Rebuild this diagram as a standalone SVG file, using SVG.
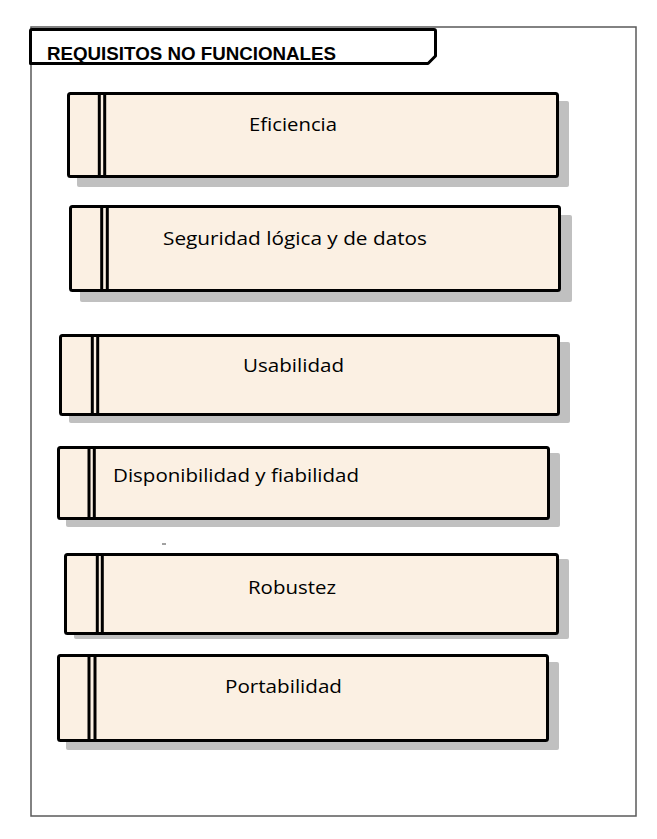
<svg xmlns="http://www.w3.org/2000/svg" width="657" height="839" viewBox="0 0 657 839">
<style>
.frame{fill:#fff;stroke:#5a5a5a;stroke-width:1.5}
.tab{fill:#fff;stroke:#000;stroke-width:3;stroke-linejoin:round}
.title{font-family:"Liberation Sans",Arial,sans-serif;font-weight:bold;font-size:19px;fill:#000}
.shadow{fill:#c0c0c0}
.box{fill:#fbf0e3;stroke:#000;stroke-width:3}
.bar{stroke:#000;stroke-width:3}
.lbl{font-family:"Open Sans","Noto Sans",sans-serif;font-size:19px;fill:#000}
</style>
<rect class="frame" x="31" y="27" width="605" height="789"/>
<g id="title">
<path class="tab" d="M30.5,31 Q30.5,29.5 32,29.5 H434 Q435.5,29.5 435.5,31 V56 L428,63.5 H30.5 Z"/>
<text class="title" x="47" y="60" textLength="289" lengthAdjust="spacingAndGlyphs">REQUISITOS NO FUNCIONALES</text>
</g>
<g id="n1">
<rect class="shadow" x="77" y="101" width="492" height="86" rx="2"/>
<rect class="box" x="68.5" y="93.5" width="489" height="83" rx="2"/>
<line class="bar" x1="99.3" y1="93.5" x2="99.3" y2="176.5"/><line class="bar" x1="104.7" y1="93.5" x2="104.7" y2="176.5"/>
<text class="lbl" x="249" y="131" textLength="88" lengthAdjust="spacingAndGlyphs">Eficiencia</text>
</g>
<g id="n2">
<rect class="shadow" x="80" y="215" width="492" height="87" rx="2"/>
<rect class="box" x="70.5" y="206.5" width="489" height="84" rx="2"/>
<line class="bar" x1="101.7" y1="206.5" x2="101.7" y2="290.5"/><line class="bar" x1="107.3" y1="206.5" x2="107.3" y2="290.5"/>
<text class="lbl" x="163" y="245" textLength="264" lengthAdjust="spacingAndGlyphs">Seguridad lógica y de datos</text>
</g>
<g id="n3">
<rect class="shadow" x="69" y="342" width="501" height="81" rx="2"/>
<rect class="box" x="60.5" y="335.5" width="498" height="79" rx="2"/>
<line class="bar" x1="92.3" y1="335.5" x2="92.3" y2="414.5"/><line class="bar" x1="97.7" y1="335.5" x2="97.7" y2="414.5"/>
<text class="lbl" x="243" y="372" textLength="101" lengthAdjust="spacingAndGlyphs">Usabilidad</text>
</g>
<g id="n4">
<rect class="shadow" x="66" y="453" width="494" height="74" rx="2"/>
<rect class="box" x="58.5" y="447.5" width="490" height="71" rx="2"/>
<line class="bar" x1="89" y1="447.5" x2="89" y2="518.5"/><line class="bar" x1="94.3" y1="447.5" x2="94.3" y2="518.5"/>
<text class="lbl" x="113" y="482" textLength="246" lengthAdjust="spacingAndGlyphs">Disponibilidad y fiabilidad</text>
</g>
<line x1="162" y1="544" x2="166" y2="544" stroke="#444" stroke-width="1"/>
<g id="n5">
<rect class="shadow" x="74" y="559" width="495" height="80" rx="2"/>
<rect class="box" x="65.5" y="554.5" width="492" height="79" rx="2"/>
<line class="bar" x1="97.3" y1="554.5" x2="97.3" y2="633.5"/><line class="bar" x1="102.3" y1="554.5" x2="102.3" y2="633.5"/>
<text class="lbl" x="248" y="594" textLength="88" lengthAdjust="spacingAndGlyphs">Robustez</text>
</g>
<g id="n6">
<rect class="shadow" x="66" y="662" width="493" height="88" rx="2"/>
<rect class="box" x="58.5" y="655.5" width="489" height="85" rx="2"/>
<line class="bar" x1="89" y1="655.5" x2="89" y2="740.5"/><line class="bar" x1="95" y1="655.5" x2="95" y2="740.5"/>
<text class="lbl" x="225" y="693" textLength="117" lengthAdjust="spacingAndGlyphs">Portabilidad</text>
</g>
<g id="connectors"/>
</svg>
